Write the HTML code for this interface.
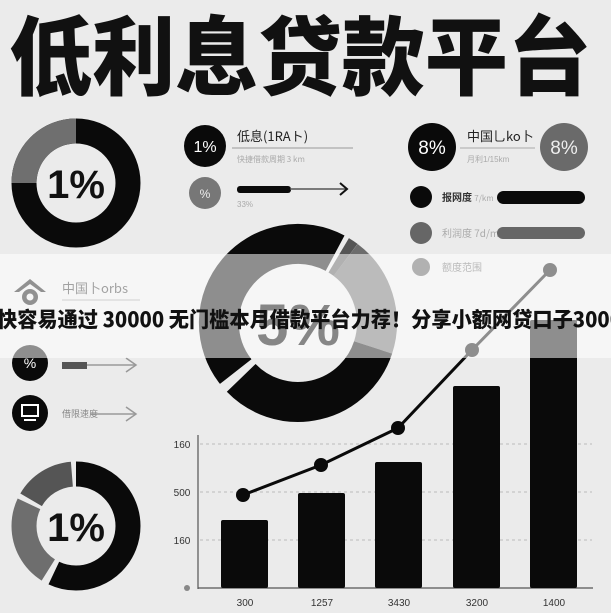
<!DOCTYPE html>
<html><head><meta charset="utf-8"><style>
html,body{margin:0;padding:0;background:#ebebeb;}
svg{display:block;}
text{font-family:"Liberation Sans","Noto Sans CJK SC",sans-serif;}
.cjk{font-family:"Noto Sans CJK SC","WenQuanYi Zen Hei",sans-serif;}
</style></head><body>
<svg width="611" height="613" viewBox="0 0 611 613" xmlns="http://www.w3.org/2000/svg">
<rect width="611" height="613" fill="#ebebeb"/>
<text x="300" y="88" text-anchor="middle" class="cjk" font-size="86" font-weight="900" fill="#111" textLength="582" lengthAdjust="spacingAndGlyphs">低利息贷款平台</text>

<circle cx="76" cy="183" r="52" fill="none" stroke="#0a0a0a" stroke-width="25"/>
<path d="M24 183 A52 52 0 0 1 76 131" fill="none" stroke="#6f6f6f" stroke-width="25"/>
<text x="76" y="198" text-anchor="middle" font-size="40" font-weight="bold" fill="#111">1%</text>

<circle cx="205" cy="146" r="21" fill="#0a0a0a"/>
<text x="205" y="152" text-anchor="middle" font-size="16" fill="#fff">1%</text>
<text x="237" y="141" class="cjk" font-size="13" fill="#222">低息(1RAト)</text>
<line x1="232" y1="148" x2="353" y2="148" stroke="#999" stroke-width="1"/>
<text x="237" y="162" class="cjk" font-size="8" fill="#aaa">快捷借款周期 3 km</text>
<circle cx="205" cy="193" r="16" fill="#777"/>
<text x="205" y="198" text-anchor="middle" font-size="12" fill="#eee">%</text>
<rect x="237" y="186" width="54" height="7" rx="3" fill="#0a0a0a"/>
<line x1="290" y1="189" x2="346" y2="189" stroke="#555" stroke-width="1.5"/>
<path d="M340 183 L347 189 L340 195" fill="none" stroke="#111" stroke-width="2"/>
<text x="237" y="207" font-size="8" fill="#aaa">33%</text>

<circle cx="432" cy="147" r="24" fill="#0a0a0a"/>
<text x="432" y="154" text-anchor="middle" font-size="19" fill="#fff">8%</text>
<text x="467" y="141" class="cjk" font-size="13" fill="#222">中国乚ko卜</text>
<line x1="460" y1="148" x2="535" y2="148" stroke="#aaa" stroke-width="1"/>
<text x="467" y="162" font-size="8" fill="#aaa">月利1/15km</text>
<circle cx="564" cy="147" r="24" fill="#6a6a6a"/>
<text x="564" y="154" text-anchor="middle" font-size="19" fill="#eee">8%</text>
<circle cx="421" cy="197" r="11" fill="#0a0a0a"/>
<text x="442" y="201" class="cjk" font-size="10" font-weight="bold" fill="#333">报网度 <tspan fill="#aaa" font-weight="normal" font-size="8">7/km</tspan></text>
<rect x="497" y="191" width="88" height="13" rx="6.5" fill="#0a0a0a"/>
<circle cx="421" cy="233" r="11" fill="#666"/>
<text x="442" y="237" class="cjk" font-size="10" fill="#aaa">利润度 7d/m</text>
<rect x="497" y="227" width="88" height="12" rx="6" fill="#666"/>
<circle cx="421" cy="267" r="9" fill="#555"/>
<text x="442" y="271" class="cjk" font-size="10" fill="#666">额度范围</text>

<g fill="none" stroke-width="40">
<path d="M235.7 371.6 A79 79 0 0 1 335.1 253.2" stroke="#0a0a0a"/>
<path d="M338.7 255.3 A79 79 0 0 1 345.6 259.9" stroke="#555"/>
<path d="M345.6 259.9 A79 79 0 0 1 373.1 347.4" stroke="#6c6c6c"/>
<path d="M373.1 347.4 A79 79 0 0 1 241.2 377.9" stroke="#0a0a0a"/>
</g>

<path d="M14 292 L30 279 L46 292 L41 292 L30 284 L19 292 Z" fill="#111"/>
<circle cx="30" cy="297" r="8" fill="#111"/>
<circle cx="30" cy="297" r="3.5" fill="#ebebeb"/>
<text x="62" y="293" class="cjk" font-size="13" fill="#333">中国卜orbs</text>
<line x1="62" y1="300" x2="140" y2="300" stroke="#999" stroke-width="1"/>
<circle cx="30" cy="363" r="18" fill="#0a0a0a"/>
<text x="30" y="368" text-anchor="middle" font-size="14" fill="#fff">%</text>
<rect x="62" y="362" width="25" height="7" fill="#555"/>
<line x1="87" y1="365" x2="136" y2="365" stroke="#999" stroke-width="1.5"/>
<path d="M126 358 L136 365 L126 372" fill="none" stroke="#999" stroke-width="1.5"/>
<circle cx="30" cy="413" r="18" fill="#0a0a0a"/>
<rect x="22" y="405" width="16" height="11" fill="none" stroke="#fff" stroke-width="2"/>
<line x1="24" y1="420" x2="36" y2="420" stroke="#fff" stroke-width="2"/>
<text x="62" y="417" class="cjk" font-size="9" fill="#888">借限速度</text>
<line x1="90" y1="414" x2="136" y2="414" stroke="#999" stroke-width="1.5"/>
<path d="M126 407 L136 414 L126 421" fill="none" stroke="#999" stroke-width="1.5"/>

<g transform="rotate(-90 76 526)" fill="none" stroke-width="25">
<circle cx="76" cy="526" r="52" stroke="#0a0a0a" stroke-dasharray="186.1 140.6" stroke-dashoffset="0"/>
<circle cx="76" cy="526" r="52" stroke="#6e6e6e" stroke-dasharray="75.3 251.4" stroke-dashoffset="-192.4"/>
<circle cx="76" cy="526" r="52" stroke="#555" stroke-dasharray="49.9 276.8" stroke-dashoffset="-272.3"/>
</g>
<text x="76" y="541" text-anchor="middle" font-size="40" font-weight="bold" fill="#111">1%</text>

<g stroke="#bbb" stroke-width="1" stroke-dasharray="3 3">
<line x1="200" y1="444" x2="592" y2="444"/>
<line x1="200" y1="492" x2="592" y2="492"/>
<line x1="200" y1="540" x2="592" y2="540"/>
</g>
<line x1="198" y1="435" x2="198" y2="589" stroke="#555" stroke-width="1.2"/>
<line x1="198" y1="588" x2="593" y2="588" stroke="#555" stroke-width="1.2"/>
<circle cx="187" cy="588" r="3" fill="#888"/>
<g font-size="10" fill="#333" text-anchor="middle">
<text x="182" y="448">160</text>
<text x="182" y="496">500</text>
<text x="182" y="544">160</text>
<text x="245" y="606">300</text>
<text x="322" y="606">1257</text>
<text x="399" y="606">3430</text>
<text x="477" y="606">3200</text>
<text x="554" y="606">1400</text>
</g>
<g fill="#0a0a0a">
<rect x="221" y="520" width="47" height="68" rx="2"/>
<rect x="298" y="493" width="47" height="95" rx="2"/>
<rect x="375" y="462" width="47" height="126" rx="2"/>
<rect x="453" y="386" width="47" height="202" rx="2"/>
<rect x="530" y="320" width="47" height="268" rx="2"/>
</g>
<polyline points="243,495 321,465 398,428 472,350 550,270" fill="none" stroke="#0a0a0a" stroke-width="3"/>
<g fill="#0a0a0a">
<circle cx="243" cy="495" r="7"/><circle cx="321" cy="465" r="7"/><circle cx="398" cy="428" r="7"/>
<circle cx="472" cy="350" r="7"/><circle cx="550" cy="270" r="7"/>
</g>

<rect x="0" y="254" width="611" height="104" fill="#fff" fill-opacity="0.54"/>
<text x="298" y="345" text-anchor="middle" font-size="58" font-weight="bold" fill="#6a6a6a" fill-opacity="0.8">5%</text>
<text x="-3" y="327" class="cjk" font-size="21" font-weight="900" fill="#111" textLength="625" lengthAdjust="spacingAndGlyphs">快容易通过 30000 无门槛本月借款平台力荐！分享小额网贷口子3000</text>
</svg>
</body></html>
